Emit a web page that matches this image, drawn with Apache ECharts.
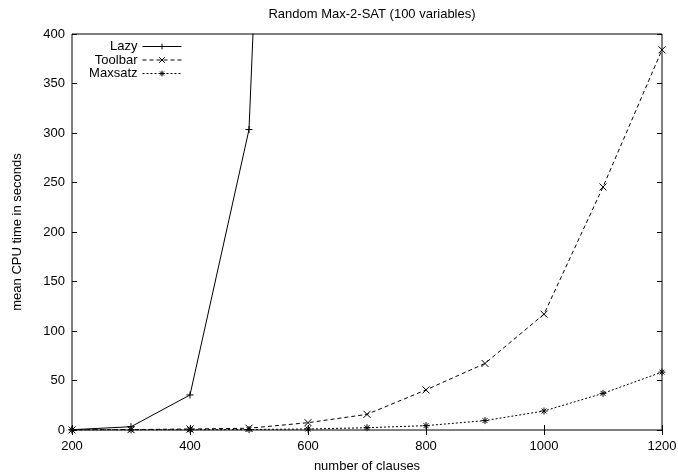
<!DOCTYPE html>
<html>
<head>
<meta charset="utf-8">
<script src="https://cdn.jsdelivr.net/npm/echarts@6/dist/echarts.min.js"></script>
<style>html,body{margin:0;padding:0;background:#fff}#c{width:678px;height:472px}</style>
</head>
<body>
<div id="c"></div>
<script>
const titleText = 'Random Max-2-SAT (100 variables)';
const xName = 'number of clauses';
const yName = 'mean CPU time in seconds';
const seriesNames = ['Lazy', 'Toolbar', 'Maxsatz'];
const clauses = [200, 300, 400, 500, 600, 700, 800, 900, 1000, 1100, 1200];
const lazyClauses = [200, 300, 400, 500, 600];
const lazy = [0.3, 3.3, 35.4, 303.5, 1730];
const toolbar = [0.1, 0.4, 1.0, 1.8, 7.4, 15.8, 40.5, 67.2, 117, 245.5, 384];
const maxsatz = [0.0, 0.1, 0.2, 0.5, 1.0, 2.3, 4.4, 9.5, 19.2, 37, 58.5];
const xMin = 200, xMax = 1200, xStep = 200;
const yMin = 0, yMax = 400, yStep = 50;

const FONT = '"Liberation Sans", Arial, Helvetica, sans-serif';
const FS = 13;
const plus = 'path://M0,5L10,5M5,0L5,10';
const cross = 'path://M0,0L10,10M10,0L0,10';
const star = 'path://M0,5L10,5M5,0L5,10M1.5,1.5L8.5,8.5M8.5,1.5L1.5,8.5';

function pairs(xs, ys) { return xs.map((x, i) => [x, ys[i]]); }

const chart = echarts.init(document.getElementById('c'), null, {renderer: 'canvas'});
const tickStyle = {inside: true, length: 5, lineStyle: {color: '#000', width: 1}};
const mk = (name, data, symbol, type, z) => ({
  name, type: 'line', data, symbol, symbolSize: 7, showSymbol: true,
  xAxisIndex: 0, yAxisIndex: 0, clip: true, animation: false, z,
  lineStyle: {color: '#000', width: 1, type},
  itemStyle: {color: '#000', borderColor: '#000', borderWidth: 1}
});
const legendRows = [40, 53.5, 67];
chart.setOption({
  animation: false,
  backgroundColor: '#fff',
  textStyle: {fontFamily: FONT},
  title: {text: titleText, left: 367, top: 3, textAlign: 'center',
    textStyle: {fontSize: FS, fontWeight: 'normal', color: '#000', fontFamily: FONT}},
  grid: {left: 72, right: 16, top: 34, bottom: 42, show: true, borderColor: '#000', borderWidth: 1,
    containLabel: false, outerBoundsMode: 'none'},
  legend: seriesNames.map((n, i) => ({
    data: [n], orient: 'vertical', align: 'right', right: 496, top: legendRows[i],
    padding: 0, itemWidth: 39, itemHeight: 7, itemGap: 7, selectedMode: false,
    lineStyle: {width: 1},
    itemStyle: {color: '#000', borderColor: '#000', borderWidth: 1},
    textStyle: {fontSize: FS, color: '#000', fontFamily: FONT}
  })),
  xAxis: [
    {type: 'value', min: xMin, max: xMax, interval: xStep, position: 'bottom',
      name: xName, nameLocation: 'middle', nameGap: 30,
      nameTextStyle: {fontSize: FS, color: '#000'},
      axisLine: {show: false}, splitLine: {show: false}, axisTick: tickStyle,
      axisLabel: {fontSize: FS, color: '#000', margin: 10, formatter: v => String(v)}},
    {type: 'value', min: xMin, max: xMax, interval: xStep, position: 'top',
      axisLine: {show: false}, splitLine: {show: false}, axisTick: tickStyle,
      axisLabel: {show: false}}
  ],
  yAxis: [
    {type: 'value', min: yMin, max: yMax, interval: yStep, position: 'left',
      name: yName, nameLocation: 'middle', nameGap: 48, nameRotate: 90,
      nameTextStyle: {fontSize: FS, color: '#000'},
      axisLine: {show: false}, splitLine: {show: false}, axisTick: tickStyle,
      axisLabel: {fontSize: FS, color: '#000', margin: 7, formatter: v => String(v)}},
    {type: 'value', min: yMin, max: yMax, interval: yStep, position: 'right',
      axisLine: {show: false}, splitLine: {show: false}, axisTick: tickStyle,
      axisLabel: {show: false}}
  ],
  series: [
    mk(seriesNames[0], pairs(lazyClauses, lazy), plus, 'solid', 3),
    mk(seriesNames[1], pairs(clauses, toolbar), cross, [4, 3], 2),
    mk(seriesNames[2], pairs(clauses, maxsatz), star, [2, 2], 1)
  ]
});
</script>
</body>
</html>
